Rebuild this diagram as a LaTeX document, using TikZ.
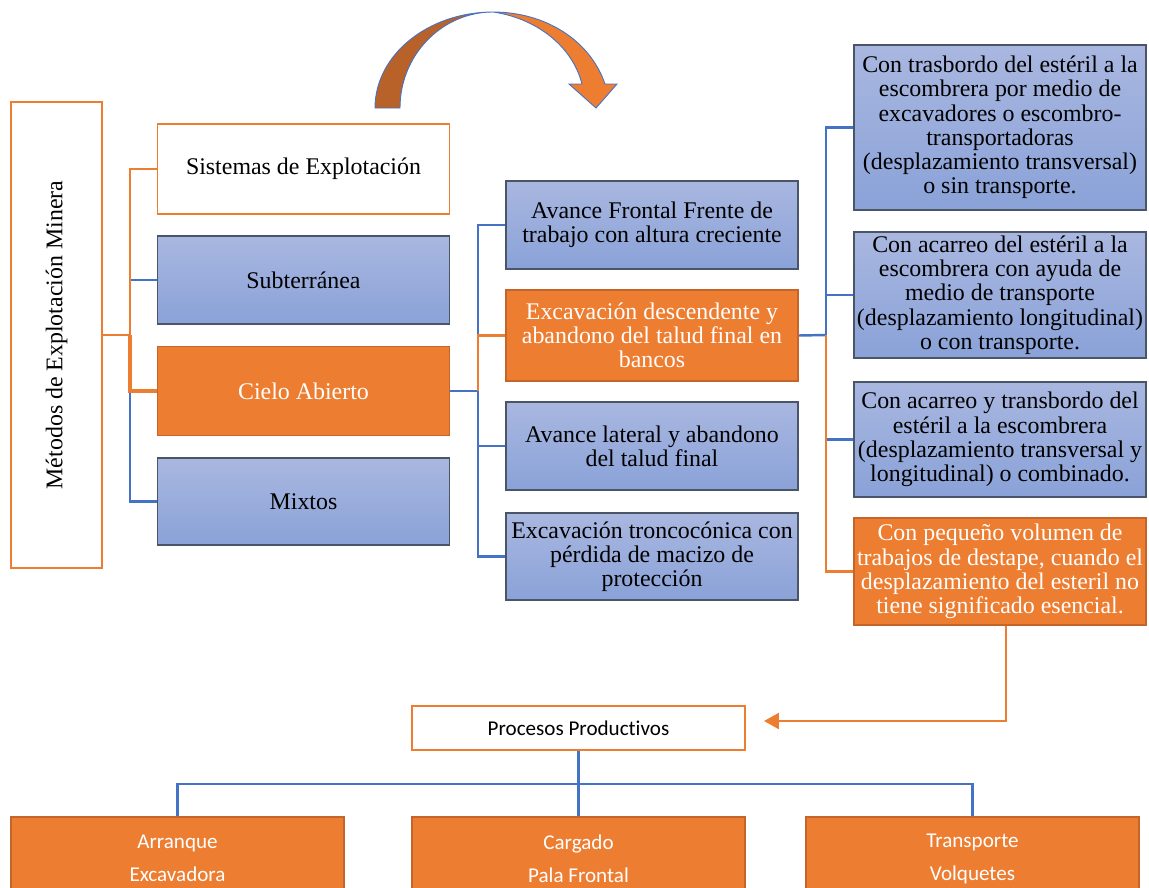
\documentclass[tikz,border=0pt]{standalone}
\usepackage{fontspec}
\setmainfont{Liberation Serif}
\newfontfamily\calibri[Ligatures=NoCommon]{Carlito}
\usetikzlibrary{arrows.meta}

\definecolor{naranja}{HTML}{ED7D31}
\definecolor{naranjaborde}{HTML}{C4652C}
\definecolor{flechaoscura}{HTML}{B8622A}
\definecolor{azullinea}{HTML}{4472C4}
\definecolor{azularriba}{HTML}{A9B7E0}
\definecolor{azulabajo}{HTML}{8AA2D8}
\definecolor{bordegris}{HTML}{4A5568}

\begin{document}
\begin{tikzpicture}[x=0.2mm, y=-0.2mm,
  caja/.style={minimum width=58.4mm, align=center, inner sep=1pt,
    font=\fontsize{13.6}{13.8}\selectfont},
  cajaazul/.style={caja, draw=bordegris, line width=0.6pt, top color=azularriba, bottom color=azulabajo},
  cajanaranja/.style={caja, draw=naranjaborde, line width=1.1pt, fill=naranja, text=white},
  cajablanca/.style={caja, draw=naranja, line width=1.1pt, fill=white},
  proceso/.style={draw=naranjaborde, line width=1.1pt, fill=naranja, text=white,
    minimum width=66.6mm, minimum height=16.6mm, align=center,
    font=\calibri\fontsize{12}{18.7}\selectfont},
  lineaazul/.style={draw=azullinea, line width=1.4pt},
  lineanaranja/.style={draw=naranja, line width=1.4pt}
]
\useasboundingbox (0,0) rectangle (1149,887);

% flecha curva
\filldraw[fill=flechaoscura, draw=azullinea, line width=0.5pt]
  (375,108) .. controls (375,55) and (428,12) .. (493,12)
  .. controls (442,12) and (400,55) .. (400,108) -- cycle;
\filldraw[fill=naranja, draw=azullinea, line width=0.5pt]
  (493,12) .. controls (545,12) and (590,40) .. (605,84) -- (617,84) -- (596,108)
  -- (569,84) -- (582,84) .. controls (572,45) and (535,18) .. (493,12) -- cycle;

\node[cajablanca, line width=1.3pt, minimum width=18.2mm, minimum height=93.2mm] (metodos) at (56.5,335) {};
\node[rotate=90, font=\fontsize{13.6}{13.8}\selectfont] (metodostexto) at (metodos) {Métodos de Explotación Minera};

\node[cajablanca, minimum height=18mm] (sistemas) at (303.5,169) {Sistemas de Explotación};
\node[cajaazul, minimum height=17.6mm] (subterranea) at (303.5,280) {Subterránea};
\node[cajanaranja, minimum height=17.8mm] (cielo) at (303.5,391) {Cielo Abierto};
\node[cajaazul, minimum height=17.4mm] (mixtos) at (303.5,501.5) {Mixtos};

\node[cajaazul, minimum height=17.6mm] (frontal) at (652,225) {Avance Frontal Frente de\\trabajo con altura creciente};
\node[cajanaranja, minimum height=18.2mm] (descendente) at (652,335.5) {Excavación descendente y\\abandono del talud final en\\bancos};
\node[cajaazul, minimum height=17.6mm] (lateral) at (652,446) {Avance lateral y abandono\\del talud final};
\node[cajaazul, minimum height=17.4mm] (troncoconica) at (652,556.5) {Excavación troncocónica con\\pérdida de macizo de\\protección};

\node[cajaazul, minimum height=33mm] (trasbordo) at (1000,127.5) {Con trasbordo del estéril a la\\escombrera por medio de\\excavadores o escombro-\\transportadoras\\(desplazamiento transversal)\\o sin transporte.};
\node[cajaazul, minimum height=25.2mm] (acarreo) at (1000,295) {Con acarreo del estéril a la\\escombrera con ayuda de\\medio de transporte\\(desplazamiento longitudinal)\\o con transporte.};
\node[cajaazul, minimum height=23mm] (combinado) at (1000,439.5) {Con acarreo y transbordo del\\estéril a la escombrera\\(desplazamiento transversal y\\longitudinal) o combinado.};
\node[cajanaranja, minimum height=21.4mm] (pequeno) at (1000,571.5) {Con pequeño volumen de\\trabajos de destape, cuando el\\desplazamiento del esteril no\\tiene significado esencial.};

\node[cajablanca, minimum width=66.6mm, minimum height=8.8mm, font=\calibri\fontsize{12}{14}\selectfont] (procesos) at (578.5,728) {Procesos Productivos};
\node[proceso] (arranque) at (177.5,858.5) {Arranque\\Excavadora};
\node[proceso] (cargado) at (578.5,858.5) {Cargado\\Pala Frontal};
\node[proceso] (transporte) at (972.5,858.5) {Transporte\\Volquetes};

\coordinate (busA) at (130,335);
\coordinate (busB) at (478,391);
\coordinate (busC) at (826,335);
\coordinate (busD) at (578.5,784);

\draw[lineaazul] (subterranea.west) -| (busA) |- (mixtos.west);
\draw[lineanaranja, line width=0.8pt] (metodos.east) -- (busA) |- (sistemas.west);
\draw[lineanaranja, line width=2.2pt] (busA) |- (cielo.west);

\draw[lineaazul] (cielo.east) -- (busB);
\draw[lineaazul] (frontal.west) -| (busB) |- (troncoconica.west);
\draw[lineaazul] (lateral.west) -| (busB);
\draw[lineanaranja] (busB) |- (descendente.west);

\draw[lineaazul] (descendente.east) -- (busC);
\draw[lineaazul] (trasbordo.west) -| (busC) |- (combinado.west);
\draw[lineaazul] (acarreo.west) -| (busC);
\draw[lineanaranja] (busC) |- (pequeno.west);

\draw[lineanaranja, -{Triangle[length=3mm, width=3.2mm]}]
  ([xshift=1.2mm]pequeno.south) |- ([xshift=3.6mm, yshift=1.4mm]procesos.east);

\draw[lineaazul] (procesos.south) -- (busD);
\draw[lineaazul] (arranque.north) |- (busD) -| (transporte.north);
\draw[lineaazul] (busD) -- (cargado.north);
\end{tikzpicture}
\end{document}
